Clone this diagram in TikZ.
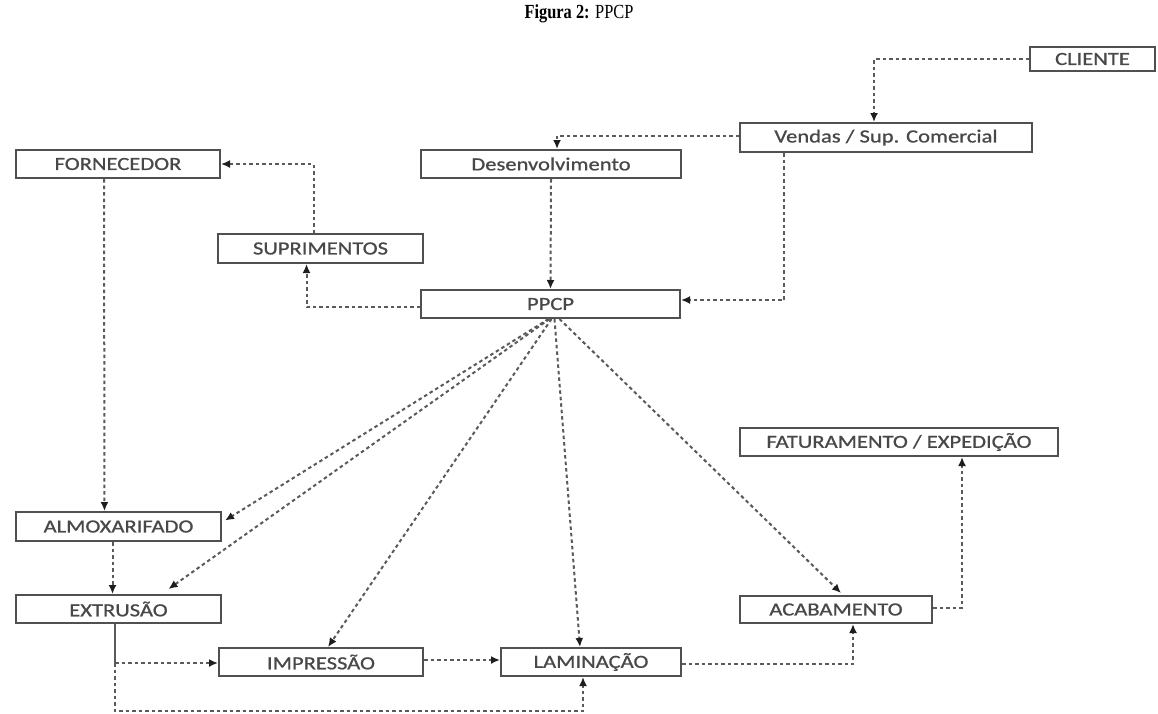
\documentclass[tikz,border=0pt]{standalone}
\usepackage{fontspec}
\setmainfont{Carlito}[FakeStretch=1.22,FakeBold=0.9]
\newfontfamily\titlefont{Liberation Serif}[FakeStretch=0.82]
\usetikzlibrary{arrows.meta,calc}
\definecolor{boxline}{HTML}{505050}
\definecolor{boxtext}{HTML}{484848}
\definecolor{connline}{HTML}{5A5A5A}
\definecolor{tipcol}{HTML}{1E1E1E}
\tikzset{
  box/.style={draw=boxline, line width=2pt, fill=white, text=boxtext,
    inner sep=0pt, font=\fontsize{18.5}{20}\selectfont},
  conn/.style={draw=connline, line width=2pt, dash pattern=on 3.5pt off 3pt,
    -{Latex[length=9pt,width=8pt,color=tipcol]}},
  solidseg/.style={draw=connline, line width=2pt}
}
\begin{document}
\begin{tikzpicture}[x=1pt,y=-1pt]
\useasboundingbox[fill=white] (0,0) rectangle (1158,713);
% title
\node[font=\titlefont\fontsize{20}{22}\selectfont] (title) at (579,14) {\textbf{Figura 2:} PPCP};
% boxes
\node[box, minimum width=125pt, minimum height=24pt] (cli)  at (1092.5,59)  {CLIENTE};
\node[box, minimum width=292pt, minimum height=29pt] (ven)  at (886,137.5)  {Vendas / Sup. Comercial};
\node[box, minimum width=260pt, minimum height=28pt] (des)  at (551,164)    {Desenvolvimento};
\node[box, minimum width=204pt, minimum height=28pt] (forn) at (118,164)    {FORNECEDOR};
\node[box, minimum width=205pt, minimum height=29pt] (sup)  at (320.5,248.5){SUPRIMENTOS};
\node[box, minimum width=259pt, minimum height=28pt] (ppcp) at (550.5,304)  {PPCP};
\node[box, minimum width=318pt, minimum height=28pt] (fat)  at (899,442)    {FATURAMENTO / EXPEDIÇÃO};
\node[box, minimum width=205pt, minimum height=29pt] (alm)  at (118.5,526.5){ALMOXARIFADO};
\node[box, minimum width=205pt, minimum height=28pt] (ext)  at (118.5,609)  {EXTRUSÃO};
\node[box, minimum width=192pt, minimum height=27pt] (aca)  at (836,609.5)  {ACABAMENTO};
\node[box, minimum width=204pt, minimum height=28pt] (imp)  at (321,662)    {IMPRESSÃO};
\node[box, minimum width=180pt, minimum height=28pt] (lam)  at (591,662)    {LAMINAÇÃO};
% connectors
\draw[conn] (cli.west) -| ([xshift=-12pt]ven.north);
\draw[conn] ([yshift=2pt]ven.west) -| ([xshift=6pt]des.north);
\draw[conn] ([xshift=-102pt]ven.south) |- ([yshift=4pt]ppcp.east);
\draw[conn] (des.south) -- (ppcp.north);
\draw[conn] ([yshift=-3pt]ppcp.west) -| ([xshift=-14pt]sup.south);
\draw[conn] ([xshift=-7pt]sup.north) |- (forn.east);
\draw[conn] ([xshift=-14pt]forn.south) -- ([xshift=-14pt]alm.north);
\draw[conn] ([xshift=-6pt]alm.south) -- ([xshift=-6pt]ext.north);
% fan from PPCP
\draw[conn] ([xshift=-2pt]ppcp.south) -- ([xshift=3pt,yshift=6pt]alm.east);
\draw[conn] ([xshift=-1pt]ppcp.south) -- ([xshift=50pt,yshift=5pt]ext.north);
\draw[conn] ([xshift=1pt]ppcp.south) -- ([xshift=7pt]imp.north);
\draw[conn] ([xshift=4pt]ppcp.south) -- ([xshift=-11pt]lam.north);
\draw[conn] ([xshift=9pt]ppcp.south) -- ([xshift=5pt,yshift=2pt]aca.north);
% extrusion outputs
\coordinate (e1) at ($(ext.south)+(-3.5,39)$);
\coordinate (e2) at ($(e1)+(0,48)$);
\draw[solidseg] ([xshift=-3.5pt]ext.south) -- (e1);
\draw[conn] (e1) -- (e1 -| imp.west);
\draw[conn] (e1) -- (e2) -| ([xshift=-8pt]lam.south);
% process chain
\draw[conn] ([yshift=2pt]imp.east) -- ([yshift=2pt]lam.west);
\draw[conn] ([yshift=-2pt]lam.east) -| ([xshift=17pt]aca.south);
\draw[conn] ([yshift=2pt]aca.east) -| ([xshift=63pt]fat.south);
\end{tikzpicture}
\end{document}
